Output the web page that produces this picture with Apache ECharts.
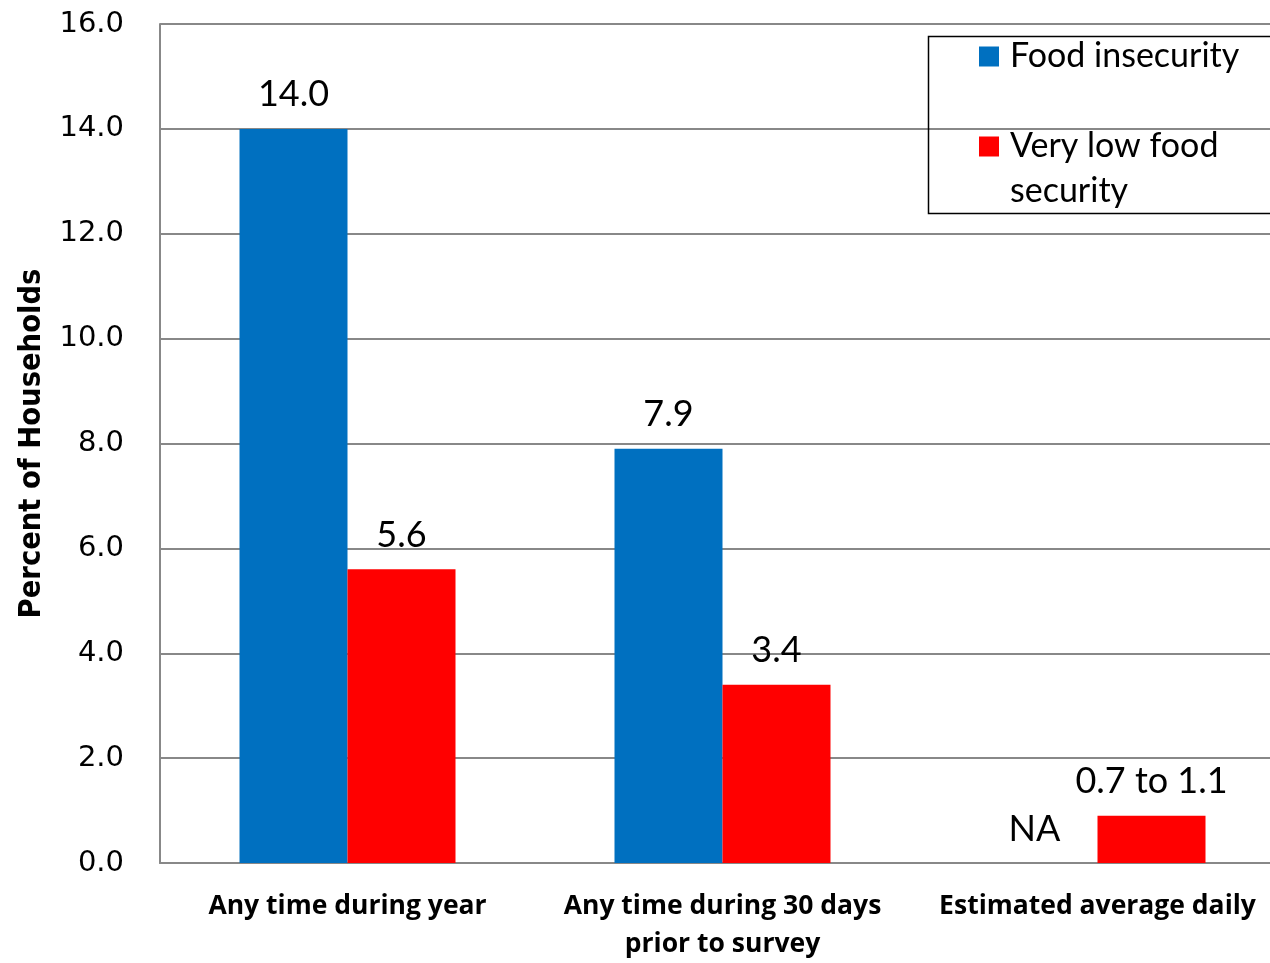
<!DOCTYPE html>
<html><head><meta charset="utf-8">
<script src="https://cdn.jsdelivr.net/npm/echarts@6/dist/echarts.min.js"></script>
<style>html,body{margin:0;padding:0;background:#fff;overflow:hidden}#c{width:1285px;height:963px}</style>
</head><body><div id="c"></div>
<script>
var categories = ['Any time during year', 'Any time during 30 days\nprior to survey', 'Estimated average daily'];
var foodInsecurity = [14.0, 7.9, 0];
var foodInsecurityLabels = ['14.0', '7.9', 'NA'];
var veryLow = [5.6, 3.4, 0.9];
var veryLowLabels = ['5.6', '3.4', '0.7 to 1.1'];
var yTicks = [0, 2, 4, 6, 8, 10, 12, 14, 16];

var chart = echarts.init(document.getElementById('c'));
var lblStyle = {fontFamily: 'Lato', fontSize: 36, color: '#000'};
var blueData = foodInsecurity.map(function(v, i){
  var d = {value: v};
  if (foodInsecurityLabels[i] === 'NA') d.label = {offset: [-9, 0]};
  return d;
});
chart.setOption({
  animation: false,
  grid: {left: 160, right: 0, top: 24, height: 844, containLabel: false},
  legend: {
    orient: 'vertical', left: 979, top: 34, itemWidth: 20, itemHeight: 20, itemGap: 0,
    padding: 0,
    formatter: function(n){ return n === 'Food insecurity' ? n : '\n' + n; },
    textStyle: {fontFamily: 'Lato', fontSize: 34, color: '#000', lineHeight: 45, padding: [0, 0, 0, 6]},
    data: [
      {name: 'Food insecurity', icon: 'rect'},
      {name: 'Very low food\nsecurity', icon: 'rect'}
    ]
  },
  graphic: [{type: 'rect', shape: {x: 928.5, y: 36.5, width: 400, height: 177}, style: {fill: 'none', stroke: '#000', lineWidth: 1.5}, z: 10}],
  xAxis: {
    type: 'category', data: categories,
    axisLine: {lineStyle: {color: '#888', width: 2}},
    axisTick: {show: false},
    axisLabel: {interval: 0, margin: 24, fontFamily: 'Open Sans', fontWeight: 'bold', fontSize: 26.5, lineHeight: 38, color: '#000'}
  },
  yAxis: {
    type: 'value', min: 0, max: 16, interval: 2,
    name: 'Percent of Households', nameLocation: 'middle', nameGap: 112,
    nameTextStyle: {fontFamily: 'Liberation Sans Narrow, DejaVu Sans Condensed, sans-serif', fontWeight: 'bold', fontSize: 30.5, color: '#000'},
    axisLine: {show: true, lineStyle: {color: '#888', width: 2}},
    axisTick: {show: false},
    splitLine: {lineStyle: {color: '#888', width: 2}},
    axisLabel: {margin: 36, fontFamily: 'DejaVu Sans', fontSize: 29, color: '#000', formatter: function(v){return v.toFixed(1);}}
  },
  series: [
    {name: 'Food insecurity', type: 'bar', barWidth: 108, barGap: '0%',
     itemStyle: {color: '#0070C0'}, data: blueData,
     label: {show: true, position: 'top', distance: 16, formatter: function(p){return foodInsecurityLabels[p.dataIndex];}, textStyle: lblStyle}},
    {name: 'Very low food\nsecurity', type: 'bar', barWidth: 108, barGap: '0%',
     itemStyle: {color: '#FF0000'}, data: veryLow,
     label: {show: true, position: 'top', distance: 16, formatter: function(p){return veryLowLabels[p.dataIndex];}, textStyle: lblStyle}}
  ]
});
</script></body></html>
